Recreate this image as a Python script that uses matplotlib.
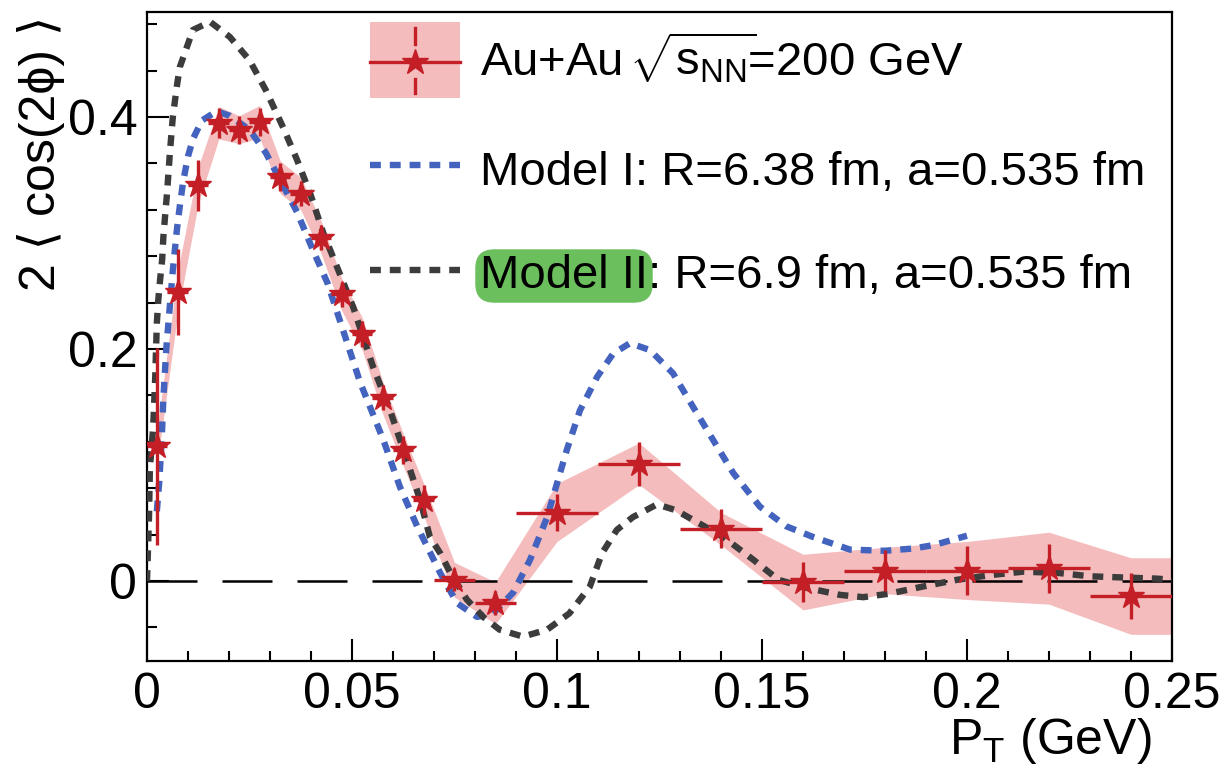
import numpy as np
import matplotlib
matplotlib.use("Agg")
import matplotlib.pyplot as plt
from matplotlib.ticker import MultipleLocator, FixedLocator, FixedFormatter

plt.rcParams['font.family'] = ['Liberation Sans', 'DejaVu Sans']
plt.rcParams['mathtext.fontset'] = 'custom'
plt.rcParams['mathtext.rm'] = 'Liberation Sans'
plt.rcParams['mathtext.it'] = 'Liberation Sans:italic'

# Au+Au data points
pt = [0.0025, 0.0075, 0.0125, 0.0175, 0.0225, 0.0275, 0.0325, 0.0375, 0.0425,
      0.0475, 0.0525, 0.0575, 0.0625, 0.0675, 0.075, 0.085, 0.10, 0.12, 0.14,
      0.16, 0.18, 0.20, 0.22, 0.24]
val = [0.116, 0.249, 0.341, 0.395, 0.389, 0.396, 0.348, 0.334, 0.296, 0.247,
       0.213, 0.158, 0.113, 0.070, 0.001, -0.019, 0.059, 0.101, 0.045, -0.001,
       0.009, 0.009, 0.011, -0.013]
stat_err = [0.085, 0.037, 0.022, 0.013, 0.012, 0.012, 0.012, 0.011, 0.011, 0.011,
            0.011, 0.011, 0.012, 0.013, 0.010, 0.010, 0.016, 0.019, 0.017, 0.017,
            0.018, 0.021, 0.021, 0.020]
pt_err = [0.0025] * 14 + [0.005, 0.005] + [0.01] * 8
sys_err = [0.015, 0.018, 0.016, 0.014, 0.012, 0.014, 0.014, 0.014, 0.014, 0.014,
           0.014, 0.014, 0.014, 0.014, 0.015, 0.018, 0.025, 0.018, 0.014, 0.024,
           0.020, 0.025, 0.031, 0.033]

# Model I: R=6.38 fm
m1_pt = [0.0024, 0.003, 0.0036, 0.004, 0.0047, 0.0063, 0.0073, 0.008, 0.0088, 0.010,
         0.0112, 0.0134, 0.017, 0.0202, 0.025, 0.029, 0.0324, 0.0366, 0.0405, 0.044,
         0.047, 0.052, 0.0576, 0.0617, 0.0659, 0.0715, 0.0756, 0.0805, 0.0844, 0.0893,
         0.0934, 0.0976, 0.1024, 0.1056, 0.1098, 0.1137, 0.1178, 0.1227, 0.1283, 0.1332,
         0.138, 0.143, 0.1495, 0.156, 0.1624, 0.169, 0.1715, 0.180, 0.187, 0.192,
         0.198, 0.200]
m1_val = [0.06, 0.086, 0.123, 0.158, 0.200, 0.268, 0.303, 0.323, 0.344, 0.366,
          0.381, 0.397, 0.405, 0.401, 0.389, 0.369, 0.346, 0.318, 0.285, 0.257,
          0.225, 0.171, 0.122, 0.081, 0.047, 0.007, -0.019, -0.031, -0.028, -0.010,
          0.018, 0.055, 0.113, 0.147, 0.176, 0.196, 0.205, 0.199, 0.179, 0.150,
          0.122, 0.093, 0.064, 0.047, 0.038, 0.030, 0.027, 0.026, 0.028, 0.031,
          0.037, 0.039]

# Model II: R=6.9 fm
m2_pt = [0.0, 0.0005, 0.0007, 0.0015, 0.002, 0.0024, 0.0027, 0.0032, 0.0037, 0.004,
         0.0044, 0.0049, 0.0056, 0.0063, 0.0073, 0.008, 0.0112, 0.0154, 0.0202, 0.025,
         0.029, 0.0332, 0.0366, 0.0398, 0.043, 0.047, 0.0503, 0.0551, 0.0593, 0.0634,
         0.0666, 0.069, 0.0715, 0.074, 0.078, 0.082, 0.086, 0.0917, 0.0976, 0.103,
         0.108, 0.111, 0.1146, 0.1185, 0.1244, 0.129, 0.134, 0.1405, 0.148, 0.154,
         0.161, 0.169, 0.1747, 0.181, 0.189, 0.1976, 0.2056, 0.2137, 0.222, 0.230,
         0.238, 0.2463, 0.25]
m2_val = [0.0, 0.057, 0.097, 0.132, 0.175, 0.222, 0.240, 0.260, 0.277, 0.297,
          0.314, 0.335, 0.370, 0.400, 0.427, 0.443, 0.475, 0.482, 0.469, 0.449,
          0.423, 0.391, 0.363, 0.334, 0.300, 0.265, 0.236, 0.185, 0.147, 0.104,
          0.070, 0.038, 0.024, 0.007, -0.016, -0.031, -0.042, -0.048, -0.042, -0.028,
          -0.005, 0.024, 0.044, 0.055, 0.066, 0.061, 0.051, 0.038, 0.018, 0.001,
          -0.006, -0.012, -0.014, -0.011, -0.005, 0.001, 0.005, 0.008, 0.007, 0.004,
          0.003, 0.002, 0.001]

xticks = [0, 0.05, 0.1, 0.15, 0.2, 0.25]
xtick_labels = ['0', '0.05', '0.1', '0.15', '0.2', '0.25']
yticks = [0, 0.2, 0.4]
ytick_labels = ['0', '0.2', '0.4']

red = '#c41e26'
pink = '#f4bcbc'
blue = '#4363bf'
gray = '#3c3c3c'
green = '#6cbf5d'
model_style = dict(lw=4.6, ls=(0, (1.7, 1.4)), dash_capstyle='butt')

fig = plt.figure(figsize=(12.25, 7.79), dpi=100)
ax = fig.add_axes([0.12, 0.1515, 0.8367, 0.8331])

# systematic band, extended flat to the last bin edge
band_x = np.append(pt, 0.25)
band_lo = np.append(np.array(val) - np.array(sys_err), val[-1] - sys_err[-1])
band_hi = np.append(np.array(val) + np.array(sys_err), val[-1] + sys_err[-1])
ax.fill_between(band_x, band_lo, band_hi, color=pink, lw=0, zorder=1)

ax.axhline(0, color='black', lw=1.8, ls=(0, (20, 10)), zorder=2)
ax.plot(m1_pt, m1_val, color=blue, zorder=3, **model_style)
ax.plot(m2_pt, m2_val, color=gray, zorder=3, **model_style)
ax.errorbar(pt, val, xerr=pt_err, yerr=stat_err, fmt='*', color=red, ms=19,
            elinewidth=2.4, capsize=0, zorder=4)

ax.set_xlim(0, 0.25)
ax.set_ylim(-0.069, 0.4905)
ax.xaxis.set_major_locator(FixedLocator(xticks))
ax.xaxis.set_major_formatter(FixedFormatter(xtick_labels))
ax.yaxis.set_major_locator(FixedLocator(yticks))
ax.yaxis.set_major_formatter(FixedFormatter(ytick_labels))
ax.xaxis.set_minor_locator(MultipleLocator(0.01))
ax.yaxis.set_minor_locator(MultipleLocator(0.04))
ax.tick_params(which='both', direction='in', width=1.5, labelsize=36)
ax.tick_params(which='major', length=16)
ax.tick_params(which='minor', length=7)
ax.tick_params(axis='x', pad=8)
ax.tick_params(axis='y', pad=7)
for s in ax.spines.values():
    s.set_linewidth(1.6)

ax.set_xlabel(r'P$_{\rm T}$ (GeV)', fontsize=36, ha='right')
ax.xaxis.set_label_coords(0.98, -0.085)
ax.set_ylabel('2 ⟨ cos(2ϕ) ⟩', fontsize=36, ha='right')
ax.yaxis.set_label_coords(-0.08, 0.995)

# legend, drawn by hand
tr = ax.transAxes
ax.add_patch(plt.Rectangle((0.2176, 0.8675), 0.0878, 0.1171, transform=tr,
                           color=pink, lw=0, zorder=5))
ax.plot([0.2176, 0.3054], [0.923, 0.923], transform=tr, color=red, lw=2.4, zorder=6)
ax.plot([0.2615, 0.2615], [0.975, 0.95], transform=tr, color=red, lw=2.4, zorder=6)
ax.plot([0.2615, 0.2615], [0.897, 0.875], transform=tr, color=red, lw=2.4, zorder=6)
ax.plot([0.2615], [0.923], marker='*', ms=19, color=red, transform=tr, zorder=6)
ax.plot([0.2176, 0.3054], [0.7643, 0.7643], transform=tr, color=blue, zorder=6,
        **model_style)
ax.plot([0.2176, 0.3054], [0.6025, 0.6025], transform=tr, color=gray, zorder=6,
        **model_style)

ax.text(0.3249, 0.9014, r'Au+Au $\!\sqrt{\mathrm{s}_{\mathrm{NN}}}\!$=200 GeV',
        transform=tr, fontsize=34, va='baseline', zorder=7)
ax.text(0.3249, 0.733, 'Model I: R=6.38 fm, a=0.535 fm', transform=tr,
        fontsize=34, va='baseline', zorder=7)
t2 = ax.text(0.3249, 0.5747, 'Model II', transform=tr, fontsize=34, va='baseline',
             zorder=7, bbox=dict(boxstyle='round,pad=0.1,rounding_size=0.4',
                                 fc=green, ec='none'))
fig.canvas.draw()
bb = t2.get_window_extent()
x_end = tr.inverted().transform((bb.x1, bb.y0))[0]
ax.text(x_end, 0.5747, ': R=6.9 fm, a=0.535 fm', transform=tr, fontsize=34,
        va='baseline', zorder=7)

fig.savefig('out.png', dpi=100)
